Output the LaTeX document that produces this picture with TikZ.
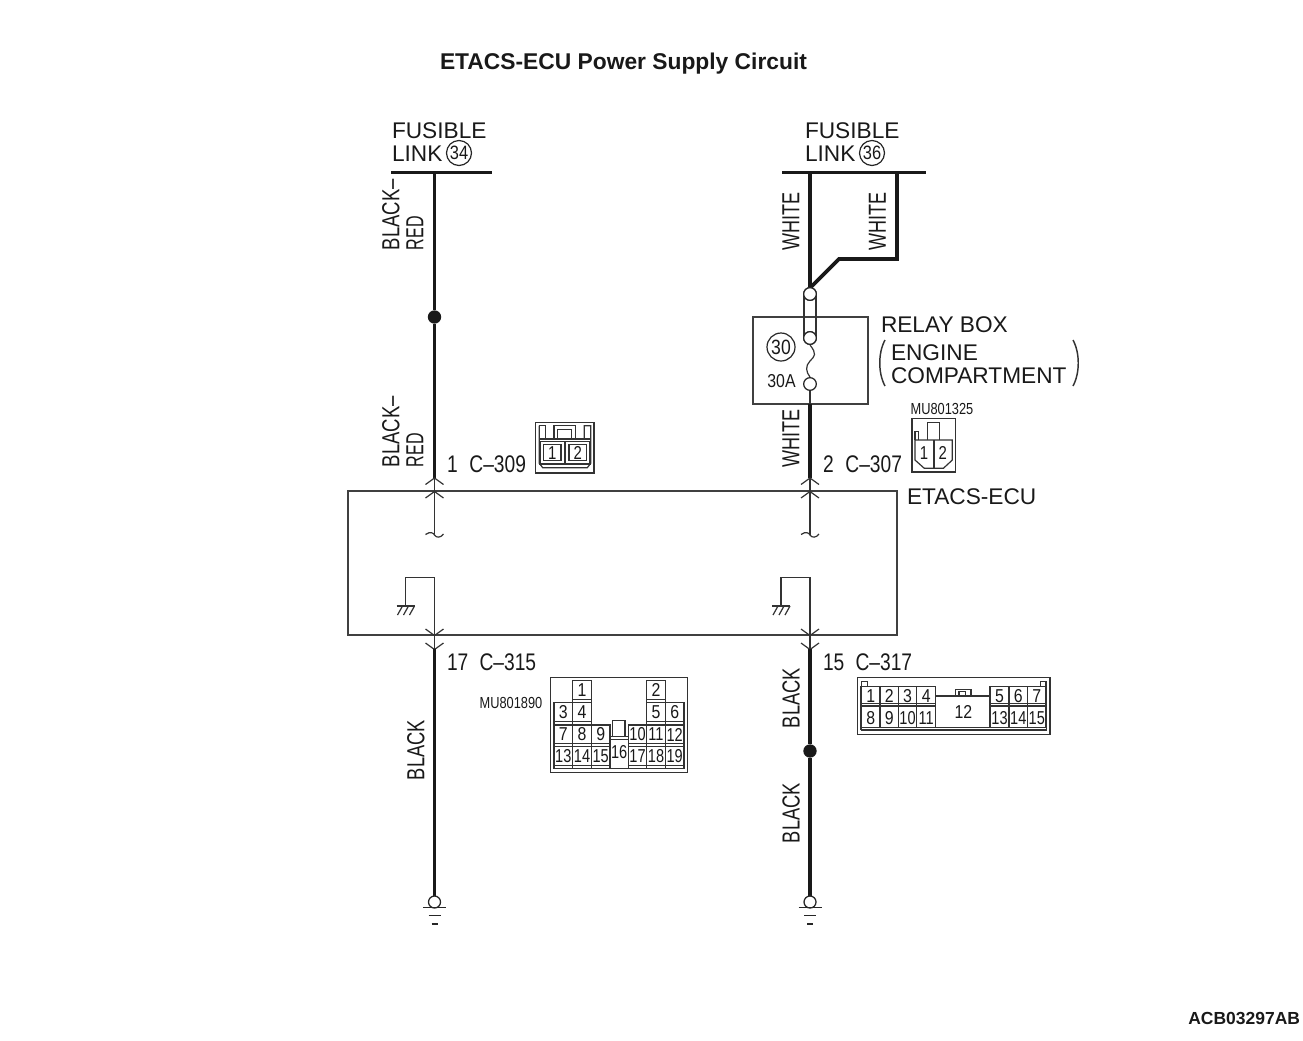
\documentclass[tikz,border=0pt]{standalone}
\usepackage{fontspec}
\setmainfont{Liberation Sans}
\newcommand{\nar}[2]{\scalebox{#1}[1]{#2}}
\tikzset{
 wire/.style={line width=2.7pt,black!90},
 bus/.style={line width=1.6pt,black!90},
 thinw/.style={line width=.9pt,black!80},
 conn/.style={line width=.8pt,draw=black!75},
 cn/.style={line width=.9pt,draw=black!80},
 lab/.style={inner sep=0pt,outer sep=0pt,font=\fontsize{17pt}{18pt}\selectfont,text=black!90},
 wl/.style={inner sep=0pt,outer sep=0pt,font=\fontsize{18.5pt}{20pt}\selectfont,text=black!90,rotate=90,anchor=west},
 pin/.style={inner sep=0pt,outer sep=0pt,font=\fontsize{18pt}{20pt}\selectfont,text=black!90,anchor=west},
 num/.style={inner sep=0pt,outer sep=0pt,font=\fontsize{14pt}{15pt}\selectfont,text=black!90},
 mu/.style={inner sep=0pt,outer sep=0pt,font=\fontsize{12pt}{13pt}\selectfont,text=black!90},
 ring/.style={draw=black!85,circle,inner sep=0pt,line width=.9pt,text=black!90,font=\fontsize{14.5pt}{15pt}\selectfont},
 term/.style={draw=black!85,circle,inner sep=0pt,minimum size=9.5pt,line width=.95pt,fill=white},
 dot/.style={fill=black!90,circle,inner sep=0pt,minimum size=10pt},
}
\begin{document}
\begin{tikzpicture}[x=.75pt,y=-.75pt]
\useasboundingbox (0,0) rectangle (1303,1040);

% title and id
\node[lab,font=\fontsize{17.1pt}{19pt}\selectfont\bfseries,anchor=west] (title) at (440,64) {ETACS-ECU Power Supply Circuit};
\node[lab,font=\fontsize{13.1pt}{15pt}\selectfont\bfseries,anchor=east] (acb) at (1300,1018) {ACB03297AB};

% key points
\coordinate (busLa) at (391,172.5); \coordinate (busLb) at (492,172.5);
\coordinate (busRa) at (782,172.5); \coordinate (busRb) at (926,172.5);
\coordinate (L0) at (434.5,172.5);
\coordinate (R0) at (810,172.5);
\coordinate (R1) at (897,172.5);
\coordinate (Lt) at (434.5,478);
\coordinate (Rt) at (810,478);
\coordinate (Lb) at (434.5,649);
\coordinate (Rb) at (810,649);

% bus bars
\draw[bus] (busLa) -- (busLb);
\draw[bus] (busRa) -- (busRb);

% ECU box
\node[conn,draw,minimum width=411.75pt,minimum height=108pt,inner sep=0pt] (ecu) at (622.5,563) {};

% relay box
\node[conn,draw,minimum width=86.25pt,minimum height=65.25pt,inner sep=0pt] (relay) at (810.5,360.5) {};

% power wires
\node[dot] (dotL) at (434.5,317) {};
\draw[wire] (L0) -- (dotL) -- (Lt);
\draw[wire,line join=miter] (R0) -- (810,290);
\draw[wire,line join=miter] (R1) -- (897,259) -- (839,259) -- (810,288);
\node[term] (f1) at (810,294) {};
\node[term] (f2) at (810,338) {};
\node[term] (f3) at (810,384) {};
\draw[thinw] (804,294) -- (804,338) (816,294) -- (816,338);
\draw[thinw] (f2.south) .. controls (817,354) and (815,356) .. (810,361) .. controls (805,366) and (806,372) .. (f3.north);
\draw[thinw] (f3.south) -- (810,404);
\draw[wire] (810,404) -- (Rt);
\node[term] at (f1) {};
\node[term] at (f2) {};

% inside ECU
\foreach \xx/\nm in {434.5/a,810/b}{
 \draw[thinw] (\xx-9,484.5) -- (\xx,478) -- (\xx+9,484.5);
 \draw[thinw] (\xx-9,498) -- (\xx,491.5) -- (\xx+9,498);
 \draw[thinw] (\xx,478) -- (\xx,535);
 \draw[thinw] (\xx-9,534.5) .. controls (\xx-4,531) and (\xx-1,533) .. (\xx,535) .. controls (\xx+2,538) and (\xx+6,538) .. (\xx+9,534);
 \draw[thinw] (\xx,635) -- (\xx,577.5) -- (\xx-29,577.5) -- (\xx-29,606);
 \draw[thinw] (\xx-38,606) -- (\xx-20,606);
 \draw[thinw] (\xx-32,606) -- (\xx-37,615) (\xx-26,606) -- (\xx-31,615) (\xx-20,606) -- (\xx-25,615);
 \draw[thinw] (\xx-9,629) -- (\xx,635.5) -- (\xx+9,629);
 \draw[thinw] (\xx-9,643) -- (\xx,649.5) -- (\xx+9,643);
 \draw[thinw] (\xx,635) -- (\xx,649);
}

% lower wires and grounds
\node[dot] (dotR) at (810,751) {};
\draw[wire] (Lb) -- (434.5,897);
\draw[wire] (Rb) -- (dotR) -- (810,897);
\node[term,minimum size=9pt] (gL) at (434.5,902) {};
\node[term,minimum size=9pt] (gR) at (810,902) {};
\foreach \xx in {434.5,810}{
 \draw[line width=1.1pt,black!85] (\xx-11.5,907.5) -- (\xx+11.5,907.5);
 \draw[line width=1.1pt,black!85] (\xx-6,915.5) -- (\xx+6,915.5);
 \draw[line width=1.1pt,black!85] (\xx-3,924) -- (\xx+3,924);
}

% fusible link labels
\node[lab,anchor=west] (fl1) at (392,131) {FUSIBLE};
\node[lab,anchor=west] (fl2) at (392,153.5) {LINK};
\node[ring,minimum size=18.75pt] (r34) at (459,153) {\nar{.85}{34}};
\node[lab,anchor=west] (fr1) at (805,131) {FUSIBLE};
\node[lab,anchor=west] (fr2) at (805,153.5) {LINK};
\node[ring,minimum size=18.75pt] (r36) at (872,153) {\nar{.85}{36}};

% relay box labels
\node[ring,minimum size=21pt,font=\fontsize{15.5pt}{16pt}\selectfont] (r30) at (781,347) {\nar{.85}{30}};
\node[num,font=\fontsize{14pt}{15pt}\selectfont] (a30) at (781.5,381.5) {\nar{.85}{30A}};
\node[lab,anchor=west] (rb1) at (881,325) {RELAY BOX};
\node[lab,anchor=west] (rb2) at (891,352.5) {ENGINE};
\node[lab,anchor=west] (rb3) at (891,375.5) {COMPARTMENT};
\draw[thinw,line width=1.1pt] (885,340) .. controls (878,353) and (878,373) .. (885,386);
\draw[thinw,line width=1.1pt] (1073,340) .. controls (1080,353) and (1080,373) .. (1073,386);
\node[lab,anchor=west] (ee) at (907,497) {ETACS-ECU};

% wire labels
\node[wl] (w1) at (391,250) {\nar{.75}{BLACK–}};
\node[wl] (w2) at (415,250) {\nar{.65}{RED}};
\node[wl] (w3) at (391,467) {\nar{.75}{BLACK–}};
\node[wl] (w4) at (415,467) {\nar{.65}{RED}};
\node[wl] (w5) at (791,250) {\nar{.73}{WHITE}};
\node[wl] (w6) at (877.5,250) {\nar{.73}{WHITE}};
\node[wl] (w7) at (791,467) {\nar{.73}{WHITE}};
\node[wl] (w8) at (416,780) {\nar{.74}{BLACK}};
\node[wl] (w9) at (791,728) {\nar{.74}{BLACK}};
\node[wl] (w10) at (791,843) {\nar{.74}{BLACK}};

% pin labels
\node[pin] (p1) at (447,464) {\nar{.8}{1\hspace{11pt}C–309}};
\node[pin] (p2) at (823,464) {\nar{.8}{2\hspace{11pt}C–307}};
\node[pin] (p3) at (447,662) {\nar{.8}{17\hspace{10.5pt}C–315}};
\node[pin] (p4) at (823,662) {\nar{.8}{15\hspace{10.5pt}C–317}};
\node[mu] (m1) at (942,409) {\nar{.8}{MU801325}};
\node[mu] (m2) at (511,703) {\nar{.8}{MU801890}};

% C-309 connector (units: 1/3 px)
\begin{scope}[shift={(370,395)},x=.25pt,y=-.25pt]
 \draw[cn] (497,82) rectangle (672,234);
 \draw[cn] (508,92) -- (508,205) -- (518,218) -- (652,218) -- (662,205) -- (662,92) -- (643,92) -- (643,132);
 \draw[cn] (508,92) -- (526,92) -- (526,132);
 \draw[cn] (508,132) -- (662,132);
 \draw[cn] (552,132) -- (552,92) -- (617,92) -- (617,132);
 \draw[cn] (563,132) -- (563,103) -- (605,103) -- (605,132);
 \draw[cn] (510,140) rectangle (583,207);
 \draw[cn] (587,140) rectangle (660,207);
 \node[draw,cn,num,minimum width=13pt,minimum height=12pt] (c309a) at (547,173) {\nar{.8}{1}};
 \node[draw,cn,num,minimum width=13pt,minimum height=12pt] (c309b) at (623,173) {\nar{.8}{2}};
\end{scope}

% C-307 connector
\begin{scope}[shift={(750,395)},x=.25pt,y=-.25pt]
 \draw[cn] (486,71) rectangle (616,231);
 \draw[cn] (495,135) -- (607,135) -- (607,195) -- (580,220) -- (523,220) -- (495,195) -- cycle;
 \draw[cn] (552,135) -- (552,220);
 \draw[cn] (533,135) -- (533,82) -- (568,82) -- (568,135);
 \draw[cn] (495,135) -- (495,110) -- (506,110) -- (506,135);
 \node[num] (c307a) at (522,175) {\nar{.8}{1}};
 \node[num] (c307b) at (578,175) {\nar{.8}{2}};
\end{scope}

% C-315 connector
\begin{scope}[shift={(470,650)},x=.25pt,y=-.25pt]
 \draw[cn] (242,82) rectangle (652,368);
 \foreach \a/\b/\c/\d/\n/\s in {
  308/92/364/158/1/.85, 530/92/586/158/2/.85,
  252/158/308/223/3/.85, 308/158/364/223/4/.85, 530/158/586/223/5/.85, 586/158/642/223/6/.85,
  252/225/308/290/7/.85, 308/225/364/290/8/.85, 364/225/420/290/9/.85,
  475/225/530/290/10/.78, 530/225/586/290/11/.78, 586/225/642/290/12/.78,
  252/290/308/355/13/.78, 308/290/364/355/14/.78, 364/290/420/355/15/.78,
  475/290/530/355/17/.78, 530/290/586/355/18/.78, 586/290/642/355/19/.78}{
  \draw[cn] (\a,\b) rectangle (\c,\d);
  \draw[cn] (\a,\d-9) -- (\c,\d-9);
  \node[num] (c315n\n) at ({(\a+\c)/2},{(\b+\d)/2-4}) {\nar{\s}{\n}};
 }
 \draw[cn] (420,260) rectangle (475,355);
 \draw[cn] (420,268) -- (475,268);
 \draw[cn] (427,260) -- (427,212) -- (465,212) -- (465,260);
 \node[num] (c315n16) at (447.5,307) {\nar{.78}{16}};
\end{scope}

% C-317 connector
\begin{scope}[shift={(845,650)},x=.25pt,y=-.25pt]
 \draw[cn] (38,83) rectangle (615,253);
 \draw[cn] (48,240) -- (48,110) -- (50,110) -- (50,95) -- (67,95) -- (67,110) -- (272,110);
 \draw[cn] (605,240) -- (605,110) -- (603,110) -- (603,95) -- (587,95) -- (587,110) -- (435,110);
 \draw[cn] (48,240) -- (605,240);
 \foreach \a/\c/\n/\s in {50/105/1/.85,105/160/2/.85,160/215/3/.85,215/272/4/.85,435/492/5/.85,492/548/6/.85,548/603/7/.85}{
  \draw[cn] (\a,110) rectangle (\c,168);
  \draw[cn] (\a,160) -- (\c,160);
  \node[num] (c317n\n) at ({(\a+\c)/2},137) {\nar{\s}{\n}};
 }
 \foreach \a/\c/\n/\s in {50/105/8/.85,105/160/9/.85,160/215/10/.78,215/272/11/.78,435/492/13/.78,492/548/14/.78,548/603/15/.78}{
  \draw[cn] (\a,168) rectangle (\c,232);
  \node[num] (c317n\n) at ({(\a+\c)/2},203) {\nar{\s}{\n}};
 }
 \draw[cn] (272,138) -- (435,138);
 \draw[cn] (272,232) -- (435,232);
 \draw[cn] (332,138) -- (332,118) -- (378,118) -- (378,138);
 \draw[cn] (342,138) -- (342,125) -- (362,125) -- (362,138);
 \node[num] (c317n12) at (355,187) {\nar{.85}{12}};
\end{scope}
\end{tikzpicture}
\end{document}
